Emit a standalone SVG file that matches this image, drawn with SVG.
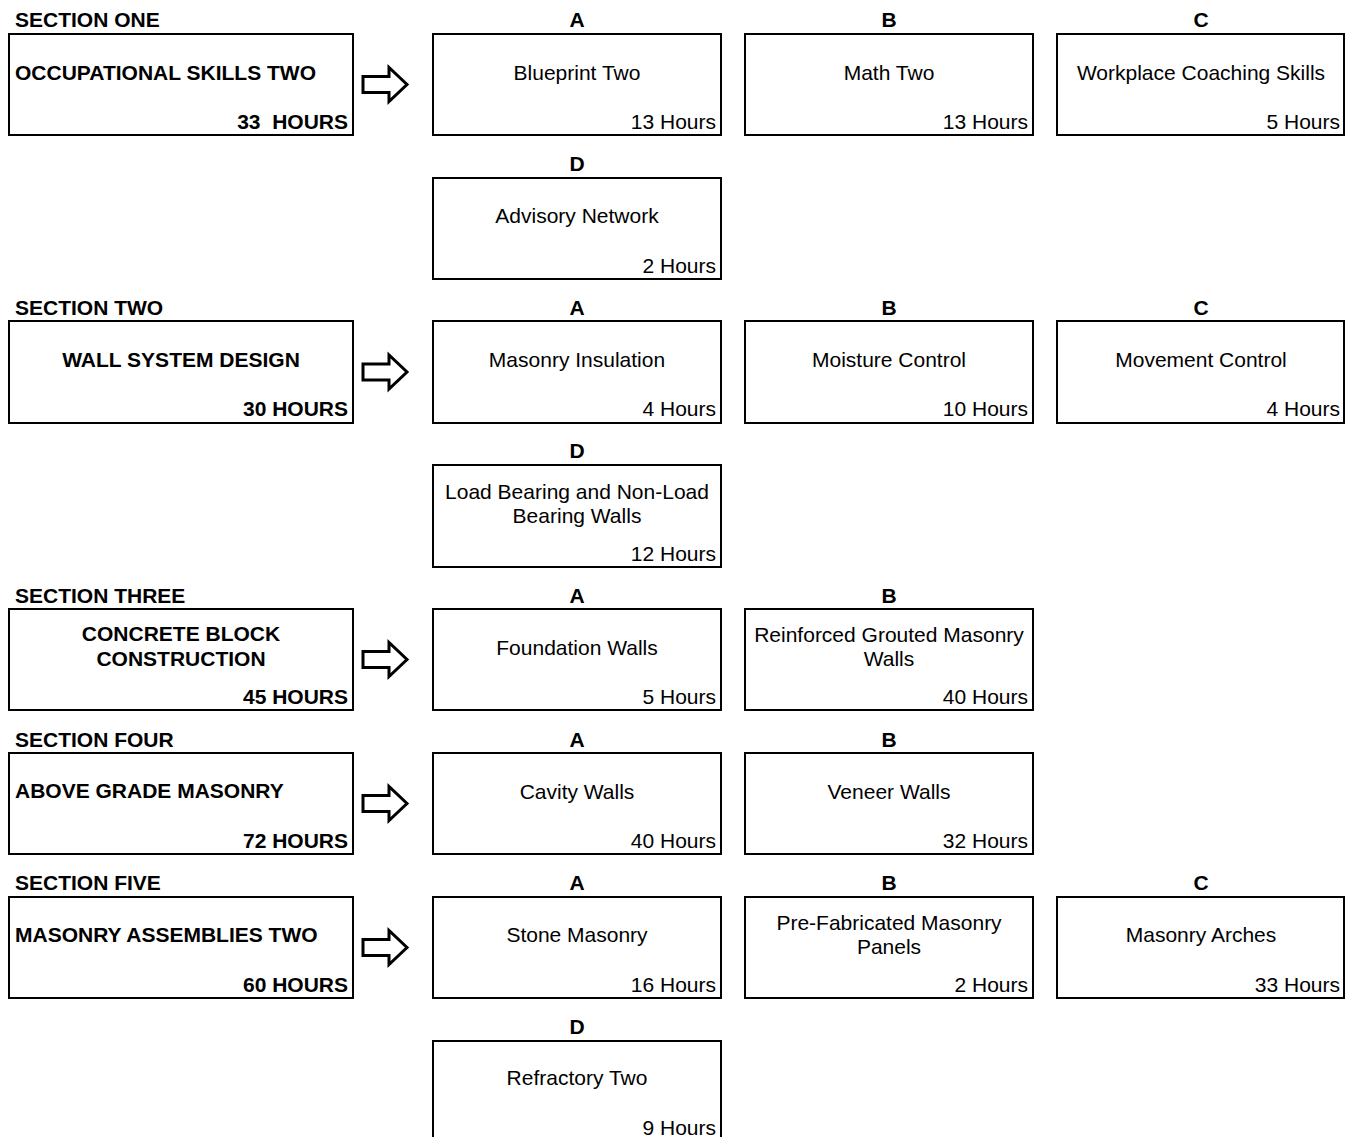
<svg xmlns="http://www.w3.org/2000/svg" width="1345" height="1137" viewBox="0 0 1345 1137">
<style>
text{font-family:"Liberation Sans",Arial,sans-serif;font-size:21px;fill:#000}
.b{font-weight:bold}
.m{text-anchor:middle}
.e{text-anchor:end}
.pre{white-space:pre}
rect{fill:#fff;stroke:#000;stroke-width:2}
.arr{fill:#fff;stroke:#000;stroke-width:3;stroke-linejoin:miter}
</style>
<defs>
<polygon id="arrow" class="arr" points="0,-8 26,-8 26,-17 44,0 26,17 26,8 0,8"/>
</defs>
<rect x="0" y="0" width="1345" height="1137" style="fill:#fff;stroke:none"/>

<!-- SECTION ONE -->
<g id="sec1">
<text class="b" x="15" y="27">SECTION ONE</text>
<rect x="9" y="34" width="344" height="101"/>
<text class="b" x="15" y="80">OCCUPATIONAL SKILLS TWO</text>
<text class="b e pre" x="348" y="129" xml:space="preserve">33  HOURS</text>
</g>
<g id="s1a"><text class="b m" x="577" y="27">A</text><rect x="433" y="34" width="288" height="101"/><text class="m" x="577" y="80">Blueprint Two</text><text class="e" x="716" y="129">13 Hours</text></g>
<g id="s1b"><text class="b m" x="889" y="27">B</text><rect x="745" y="34" width="288" height="101"/><text class="m" x="889" y="80">Math Two</text><text class="e" x="1028" y="129">13 Hours</text></g>
<g id="s1c"><text class="b m" x="1201" y="27">C</text><rect x="1057" y="34" width="287" height="101"/><text class="m" x="1201" y="80">Workplace Coaching Skills</text><text class="e" x="1340" y="129">5 Hours</text></g>
<g id="s1d"><text class="b m" x="577" y="171">D</text><rect x="433" y="178" width="288" height="101"/><text class="m" x="577" y="223">Advisory Network</text><text class="e" x="716" y="273">2 Hours</text></g>

<!-- SECTION TWO -->
<g id="sec2">
<text class="b" x="15" y="315">SECTION TWO</text>
<rect x="9" y="321" width="344" height="102"/>
<text class="b m" x="181" y="367">WALL SYSTEM DESIGN</text>
<text class="b e" x="348" y="416">30 HOURS</text>
</g>
<g id="s2a"><text class="b m" x="577" y="315">A</text><rect x="433" y="321" width="288" height="102"/><text class="m" x="577" y="367">Masonry Insulation</text><text class="e" x="716" y="416">4 Hours</text></g>
<g id="s2b"><text class="b m" x="889" y="315">B</text><rect x="745" y="321" width="288" height="102"/><text class="m" x="889" y="367">Moisture Control</text><text class="e" x="1028" y="416">10 Hours</text></g>
<g id="s2c"><text class="b m" x="1201" y="315">C</text><rect x="1057" y="321" width="287" height="102"/><text class="m" x="1201" y="367">Movement Control</text><text class="e" x="1340" y="416">4 Hours</text></g>
<g id="s2d"><text class="b m" x="577" y="458">D</text><rect x="433" y="465" width="288" height="102"/><text class="m" x="577" y="499">Load Bearing and Non-Load</text><text class="m" x="577" y="523">Bearing Walls</text><text class="e" x="716" y="561">12 Hours</text></g>

<!-- SECTION THREE -->
<g id="sec3">
<text class="b" x="15" y="603">SECTION THREE</text>
<rect x="9" y="609" width="344" height="101"/>
<text class="b m" x="181" y="641">CONCRETE BLOCK</text>
<text class="b m" x="181" y="666">CONSTRUCTION</text>
<text class="b e" x="348" y="704">45 HOURS</text>
</g>
<g id="s3a"><text class="b m" x="577" y="603">A</text><rect x="433" y="609" width="288" height="101"/><text class="m" x="577" y="655">Foundation Walls</text><text class="e" x="716" y="704">5 Hours</text></g>
<g id="s3b"><text class="b m" x="889" y="603">B</text><rect x="745" y="609" width="288" height="101"/><text class="m" x="889" y="642">Reinforced Grouted Masonry</text><text class="m" x="889" y="666">Walls</text><text class="e" x="1028" y="704">40 Hours</text></g>

<!-- SECTION FOUR -->
<g id="sec4">
<text class="b" x="15" y="747">SECTION FOUR</text>
<rect x="9" y="753" width="344" height="101"/>
<text class="b" x="15" y="798">ABOVE GRADE MASONRY</text>
<text class="b e" x="348" y="848">72 HOURS</text>
</g>
<g id="s4a"><text class="b m" x="577" y="747">A</text><rect x="433" y="753" width="288" height="101"/><text class="m" x="577" y="799">Cavity Walls</text><text class="e" x="716" y="848">40 Hours</text></g>
<g id="s4b"><text class="b m" x="889" y="747">B</text><rect x="745" y="753" width="288" height="101"/><text class="m" x="889" y="799">Veneer Walls</text><text class="e" x="1028" y="848">32 Hours</text></g>

<!-- SECTION FIVE -->
<g id="sec5">
<text class="b" x="15" y="890">SECTION FIVE</text>
<rect x="9" y="897" width="344" height="101"/>
<text class="b" x="15" y="942">MASONRY ASSEMBLIES TWO</text>
<text class="b e" x="348" y="992">60 HOURS</text>
</g>
<g id="s5a"><text class="b m" x="577" y="890">A</text><rect x="433" y="897" width="288" height="101"/><text class="m" x="577" y="942">Stone Masonry</text><text class="e" x="716" y="992">16 Hours</text></g>
<g id="s5b"><text class="b m" x="889" y="890">B</text><rect x="745" y="897" width="288" height="101"/><text class="m" x="889" y="930">Pre-Fabricated Masonry</text><text class="m" x="889" y="954">Panels</text><text class="e" x="1028" y="992">2 Hours</text></g>
<g id="s5c"><text class="b m" x="1201" y="890">C</text><rect x="1057" y="897" width="287" height="101"/><text class="m" x="1201" y="942">Masonry Arches</text><text class="e" x="1340" y="992">33 Hours</text></g>
<g id="s5d"><text class="b m" x="577" y="1034">D</text><rect x="433" y="1041" width="288" height="110"/><text class="m" x="577" y="1085">Refractory Two</text><text class="e" x="716" y="1135">9 Hours</text></g>

<!-- connectors -->
<g id="connectors">
<use href="#arrow" x="363" y="84.5"/>
<use href="#arrow" x="363" y="372"/>
<use href="#arrow" x="363" y="659.5"/>
<use href="#arrow" x="363" y="803.5"/>
<use href="#arrow" x="363" y="947.5"/>
</g>
</svg>
